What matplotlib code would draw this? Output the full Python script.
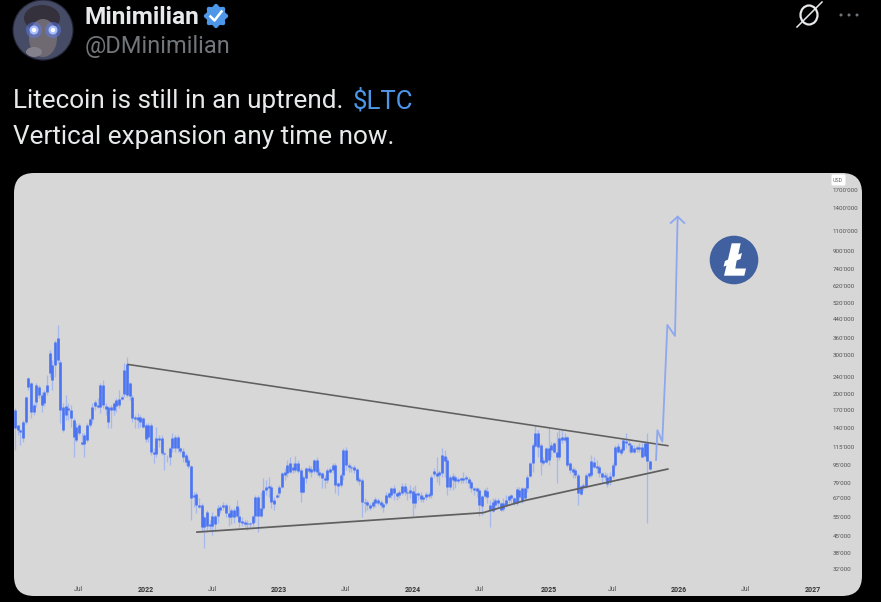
"""Litecoin tweet screenshot: header text plus weekly chart with trendlines and projected arrow."""

import matplotlib
matplotlib.use("Agg")
import matplotlib.pyplot as plt
import matplotlib.patches as mpatches
import numpy as np

# Prices in thousands of the chart's unit, one entry per candle
BODY_TOP = [
    169, 145, 137, 149, 194, 237, 224, 178.5, 220, 216, 198, 205, 220, 309, 271, 346, 361, 280, 175, 177,
    173, 169, 153, 142, 145, 121, 130, 145, 154, 175, 184, 178, 220, 220, 177, 175, 175, 182, 188, 190,
    194, 258, 274, 224, 194, 157, 157, 157, 156, 145, 145, 145, 109, 126, 126, 126, 108, 104, 114, 126,
    127, 127, 114, 110, 106, 100, 94, 69.5, 70, 62.5, 62.5, 55, 58, 51, 55.5, 55.5, 60.5, 61, 62.5, 62.5,
    57.5, 59.5, 59.5, 62, 55.5, 53, 52.5, 52, 52, 55.5, 68, 68, 60.5, 73, 75.5, 76, 75.5, 66, 69.5, 75.5,
    87.5, 88.5, 95, 97, 93, 97, 97, 90, 84, 92, 92, 91, 100, 100, 88.5, 87.5, 83, 90, 91, 95,
    95, 79, 85.5, 111, 111, 95, 93, 93, 91, 82, 81, 64.5, 64.5, 62.5, 64.5, 66.5, 66, 64.5, 63, 69.5,
    71, 75, 75, 71, 72, 76, 76, 72, 73, 72.5, 71, 71, 69.5, 68, 70, 70, 84, 89.5, 87.5, 88.5,
    106, 105, 100, 84, 85, 84, 82, 83, 83, 84, 82, 79.5, 75, 75, 73, 69, 73, 72.5, 62.5, 64.5,
    66, 66, 64, 64, 66, 69, 69.5, 67, 74, 73, 75, 75, 84, 97, 117, 133, 133, 117, 100, 114,
    114, 117, 120, 109, 126, 127.5, 127.5, 127.5, 97, 91, 90, 85.5, 76, 77, 85.5, 87.5, 99, 98, 94, 93,
    87.5, 85.5, 84, 85, 95, 115, 116, 113, 124, 122.5, 120, 117, 114, 115, 115, 115, 120, 120, 99,
]
BODY_BOTTOM = [
    140, 137, 134.5, 126, 149, 216, 166, 166, 184, 198, 178.5, 182, 205, 250, 232, 271, 286, 169, 137, 161,
    169, 156, 127, 124, 133, 119, 119, 124, 145, 154, 177, 175, 175, 178, 171, 149, 169, 169, 177, 178,
    190, 200, 198, 196, 156, 154, 153, 149, 142, 125, 127, 109, 107, 107, 124, 108, 107, 103, 104, 114,
    114, 114, 110, 103, 98, 94, 67, 68, 62.5, 61, 49.5, 49.5, 50, 50, 50, 51, 55.5, 59.5, 61, 57.5,
    55, 55, 55, 55.5, 52.5, 52, 51.5, 51, 51, 52, 55.5, 55.5, 55.5, 60.5, 73, 75, 64.5, 63, 68, 71,
    75.5, 85.5, 87.5, 88.5, 90, 90, 89.5, 72, 72, 83, 89.5, 88.5, 89.5, 88.5, 85.5, 83, 81, 81, 88.5, 90,
    77, 76, 77, 85.5, 95, 93, 92, 90, 81, 80.5, 64.5, 64, 62.5, 60.5, 62, 64, 64, 62.5, 61, 64,
    68, 69.5, 71, 69, 69.5, 71, 72, 71, 71, 64, 64, 69.5, 66.5, 66.5, 68, 69, 69.5, 86.5, 85, 85.5,
    87.5, 99, 75.5, 75.5, 81, 80.5, 80.5, 81, 81, 82, 79, 75, 73, 72.5, 62.5, 62, 69, 68, 59.5, 59,
    62.5, 64, 59.5, 60, 62.5, 66, 67, 64, 64, 68, 65, 67, 75, 85, 97, 116, 115, 98, 97, 98,
    100, 111, 109, 103, 103, 124, 124, 95, 90, 88.5, 85.5, 71, 70, 75.5, 76, 85, 85.5, 93, 92, 87.5,
    84, 84, 78, 79.5, 85, 95, 109, 108, 111, 120, 117, 109, 109, 113, 113, 104, 105, 99, 91,
]
WICK_HIGH = [
    173, 145, 139, 153, 196, 239, 227, 182, 224, 220, 205, 209, 244, 318, 286, 353, 413, 286, 182, 198,
    182, 178, 156, 148, 148, 133, 133, 148, 156, 182, 188, 192, 224, 232, 182, 177, 178, 184, 192, 209,
    198, 277, 295, 227, 198, 161, 164, 161, 157, 148, 148, 148, 114, 142, 130, 130, 109, 106, 115, 133,
    130, 130, 115, 114, 108, 103, 95, 72, 72, 67, 64, 55.5, 59.5, 53.5, 58, 56.5, 62.5, 62.5, 64.5, 64,
    62.5, 60.5, 60.5, 66, 60.5, 55, 53.5, 53.5, 52.5, 56.5, 69.5, 69.5, 72, 83, 81, 84, 77, 68, 71, 77,
    88.5, 92, 100, 103, 97, 105, 100, 92, 85.5, 93, 95, 94, 101, 103, 92, 88.5, 85.5, 92, 93, 97,
    97, 79.5, 87.5, 114, 115, 97, 95, 95, 92, 84, 83, 67, 66, 64, 66, 68, 67, 66, 64.5, 72,
    72, 75.5, 77, 72, 73, 79, 79, 75, 77, 75.5, 77, 72, 72, 69.5, 72, 72, 85.5, 92, 104, 90,
    114, 111, 103, 85.5, 87.5, 85.5, 84, 84, 88.5, 85.5, 84, 81, 75.5, 75.5, 75, 69.5, 75, 75.5, 66, 67,
    67, 67, 64.5, 67, 69.5, 69.5, 70, 68, 75.5, 75.5, 75.5, 75.5, 85.5, 98, 120, 145, 137, 120, 104, 115,
    140, 121, 121, 134.5, 137, 137, 133, 129, 98, 93, 92, 87.5, 77, 79, 87.5, 88.5, 106, 104, 100, 95,
    88.5, 88.5, 87.5, 88.5, 97, 117, 120, 115, 126, 133, 124, 120, 117, 117, 120, 120, 121, 133, 100,
]
WICK_LOW = [
    111, 130, 117, 121, 146, 209, 156, 161, 175, 192, 166, 177, 198, 239, 209, 239, 277, 148, 134, 153,
    153, 142, 104, 121, 130, 117, 104, 121, 142, 148, 169, 173, 164, 173, 161, 140, 140, 161, 166, 173,
    188, 194, 194, 188, 149, 140, 140, 142, 140, 121, 121, 106, 97, 104, 115, 106, 90, 98, 95, 109,
    109, 109, 108, 98, 95, 92, 53.5, 61, 57.5, 60.5, 47, 40, 47, 48, 45.7, 48, 52, 57.5, 59.5, 55,
    50, 51, 52, 55, 49.5, 50, 49.5, 48, 49.5, 50, 52.5, 47, 55, 59.5, 69.5, 68, 60.5, 59.5, 67, 68,
    75, 81, 84, 87.5, 87.5, 88.5, 87.5, 64.5, 71, 79, 87.5, 84, 87.5, 85.5, 84, 75, 75, 79, 87.5, 87.5,
    71, 69.5, 75.5, 81, 90, 88.5, 88.5, 87.5, 79.5, 77, 55, 58, 59.5, 59.5, 60.5, 61, 62.5, 60.5, 58, 62.5,
    67, 67, 66, 66, 67, 69.5, 69.5, 66, 67, 55.5, 60.5, 66, 64.5, 64.5, 66, 67, 67, 84, 79.5, 77,
    84, 84, 69.5, 73, 73, 75, 79, 79, 79, 79, 75, 72, 69.5, 68, 55.5, 56.5, 67, 64, 49.5, 58,
    59.5, 60.5, 59, 59, 61, 64, 64, 62.5, 62.5, 64.5, 64, 66, 72, 84, 88.5, 115, 104, 85.5, 95, 97,
    95, 103, 108, 79, 100, 120, 121, 93, 87.5, 83, 83, 62.5, 69.5, 73, 75, 83, 84, 92, 87.5, 84,
    79.5, 81, 75.5, 77, 83, 93, 108, 106, 109, 114, 109, 108, 108, 109, 109, 103, 103, 52, 90,
]

FIRST_CANDLE_YEAR = 2021.022
CANDLE_STEP_YEARS = 0.02

# Trendlines and projected path, (decimal year, price in thousands)
UPPER_TREND_X = [2021.869, 2025.915]
UPPER_TREND_Y = [273, 116.5]
LOWER_TREND_X = [2022.386, 2024.530, 2024.845, 2025.915]
LOWER_TREND_Y = [47.1, 57.7, 65.6, 91.2]
PROJECTION_X = [2025.827, 2025.837, 2025.874, 2025.912, 2025.969, 2025.989]
PROJECTION_Y = [100.3, 137, 121.5, 413, 368, 1285]
ARROW_HEAD_X = [2025.937, 2025.989, 2026.039]
ARROW_HEAD_Y = [1203, 1285, 1203]

PRICE_TICKS = [1700, 1400, 1100, 900, 740, 620, 520, 440, 360, 300, 240, 200,
               170, 140, 115, 95, 79, 67, 55, 45, 38, 32]
PRICE_LABELS = ["1700'000", "1400'000", "1100'000", "900'000", "740'000", "620'000",
                "520'000", "440'000", "360'000", "300'000", "240'000", "200'000",
                "170'000", "140'000", "115'000", "95'000", "79'000", "67'000",
                "55'000", "45'000", "38'000", "32'000"]
DATE_TICKS = [2021.5, 2022.0, 2022.5, 2023.0, 2023.5, 2024.0, 2024.5, 2025.02, 2025.5, 2026.0, 2026.5, 2027.0]
DATE_LABELS = ["Jul", "2022", "Jul", "2023", "Jul", "2024", "Jul", "2025", "Jul", "2026", "Jul", "2027"]

BODY_COLOR = "#4a74f2"
WICK_COLOR = "#a6b8ec"
TREND_COLOR = "#5f5f5f"
PANEL_COLOR = "#d7d7d7"
W, H = 881, 602

plt.rcParams["font.family"] = ["Roboto", "DejaVu Sans"]

fig = plt.figure(figsize=(W / 100, H / 100), dpi=100, facecolor="black")

# Overlay in screen pixels for the tweet furniture
bg = fig.add_axes([0, 0, 1, 1])
bg.set_xlim(0, W)
bg.set_ylim(H, 0)
bg.axis("off")

# Avatar
bg.add_patch(mpatches.Circle((43, 30), 30, facecolor="#474c66", edgecolor="none"))
bg.add_patch(mpatches.Ellipse((42, 18), 36, 26, facecolor="#34303c", edgecolor="none"))
bg.add_patch(mpatches.Ellipse((43, 38), 28, 38, facecolor="#6f6a72", edgecolor="none"))
bg.add_patch(mpatches.Ellipse((34, 52), 16, 10, facecolor="#85818c", edgecolor="none"))
bg.add_patch(mpatches.Circle((43, 30), 30, fill=False, edgecolor="#26283a", lw=0.8))
for ex in (34, 53):
    bg.add_patch(mpatches.Circle((ex, 30), 8, facecolor="#5f80ff", edgecolor="none", alpha=0.45))
    bg.add_patch(mpatches.Circle((ex, 30), 4.5, facecolor="#a8c0ff", edgecolor="none"))
    bg.add_patch(mpatches.Circle((ex, 30), 2.2, facecolor="white", edgecolor="none"))

# Header text
bg.text(85, 17.5, "Minimilian", color="#e7e9ea", fontsize=17.6, fontweight="bold", va="center")
bg.text(85, 47, "@DMinimilian", color="#71767b", fontsize=17, va="center")
bg.text(13, 101, "Litecoin is still in an uptrend.", color="#e7e9ea", fontsize=18.8, va="center")
bg.text(353, 101, "$LTC", color="#4d96e8", fontsize=18.5, va="center")
bg.text(13, 137, "Vertical expansion any time now.", color="#e7e9ea", fontsize=18.8, va="center")

# Verified badge
badge_t = np.linspace(0, 2 * np.pi, 97)
badge_r = 11 + 1.2 * np.cos(8 * badge_t)
bg.fill(216 + badge_r * np.cos(badge_t), 16 + badge_r * np.sin(badge_t), color="#4d96e8", lw=0)
bg.plot([210.5, 214.5, 221.5], [16.5, 20.5, 11.5], color="white", lw=1.8)

# Grok style icon and the dots
bg.add_patch(mpatches.Ellipse((809, 15), 17, 19, fill=False, edgecolor="#e7e9ea", lw=1.6))
bg.plot([797, 822], [27, 2], color="#e7e9ea", lw=1.1)
for dx in (841, 849, 857):
    bg.add_patch(mpatches.Circle((dx, 15), 1.5, facecolor="#71767b", edgecolor="none"))

# Chart card
rad = 20
bg.add_patch(mpatches.FancyBboxPatch(
    (14 + rad, 173 + rad), 848 - 2 * rad, 423 - 2 * rad,
    boxstyle=f"round,pad={rad},rounding_size={rad}",
    facecolor=PANEL_COLOR, edgecolor="none",
))
bg.add_patch(mpatches.FancyBboxPatch(
    (833, 176), 11, 8, boxstyle="round,pad=1.5,rounding_size=1.5",
    facecolor="white", edgecolor="none",
))
bg.text(833, 180, "USD", color="#666666", fontsize=3.8, va="center")

# Litecoin logo
bg.add_patch(mpatches.Circle((734, 260), 24.3, facecolor="#41609f", edgecolor="none"))
bg.add_patch(mpatches.Polygon(
    [(731.7, 243.3), (740.7, 243.3), (738.2, 254.5), (742, 253), (740.5, 259), (736.7, 260.5),
     (735.3, 268.5), (746, 268.5), (744.3, 275.7), (724, 275.7), (726.5, 265.5), (723.5, 266.7),
     (725, 261), (728, 259.5)],
    closed=True, facecolor="white", edgecolor="none",
))

# Price axes, lined up with the card
ax = fig.add_axes([14 / W, 1 - 596 / H, 848 / W, 423 / H])
ax.patch.set_visible(False)
for spine in ax.spines.values():
    spine.set_visible(False)
ax.set_yscale("log")
ax.set_xlim(2021.014, 2027.371)
ax.set_ylim(24.1, 2031)

xs = FIRST_CANDLE_YEAR + CANDLE_STEP_YEARS * np.arange(len(BODY_TOP))
ax.vlines(xs, WICK_LOW, WICK_HIGH, color=WICK_COLOR, lw=0.95, zorder=2)
ax.vlines(xs, BODY_BOTTOM, BODY_TOP, color=BODY_COLOR, lw=1.9, zorder=3)

ax.plot(UPPER_TREND_X, UPPER_TREND_Y, color=TREND_COLOR, lw=1.15, zorder=4)
ax.plot(LOWER_TREND_X, LOWER_TREND_Y, color=TREND_COLOR, lw=1.25, zorder=4)
ax.plot(PROJECTION_X, PROJECTION_Y, color="#8ea8f0", lw=1.3, zorder=5)
ax.plot(ARROW_HEAD_X, ARROW_HEAD_Y, color="#8ea8f0", lw=1.3, zorder=5)

ax.yaxis.tick_right()
ax.set_yticks(PRICE_TICKS, PRICE_LABELS)
ax.minorticks_off()
ax.tick_params(axis="y", length=0, pad=-21.0, labelsize=4.5, labelcolor="#555555")
ax.set_xticks(DATE_TICKS, DATE_LABELS)
ax.tick_params(axis="x", length=0, pad=-7.0, labelsize=5, labelcolor="#555555")
for lab in ax.get_xticklabels():
    if lab.get_text() != "Jul":
        lab.set_fontweight("bold")
        lab.set_color("#333333")

fig.savefig("out.png", dpi=100, facecolor="black")
plt.close(fig)
